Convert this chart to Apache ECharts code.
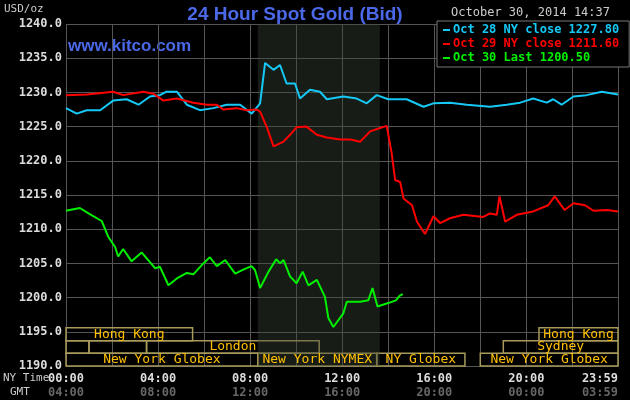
<!DOCTYPE html>
<html>
<head>
<meta charset="utf-8">
<script src="https://cdn.jsdelivr.net/npm/echarts@6/dist/echarts.min.js"></script>
<style>
  html, body { margin: 0; padding: 0; background: #000; }
  #chart { width: 630px; height: 400px; }
</style>
</head>
<body>
<div id="chart"></div>
<script>
// minutes after 00:00 NY time, and spot price
const oct28Min = [0, 28, 54, 89, 123, 158, 189, 219, 245, 262, 289, 315, 349, 384, 419, 454, 484, 506, 519, 541, 558, 575, 597, 610, 636, 662, 680, 723, 758, 784, 810, 840, 888, 932, 958, 1001, 1045, 1105, 1149, 1184, 1218, 1253, 1270, 1292, 1323, 1357, 1397, 1439];
const oct28Val = [1227.7, 1226.9, 1227.4, 1227.4, 1228.8, 1229.0, 1228.2, 1229.4, 1229.6, 1230.1, 1230.1, 1228.2, 1227.4, 1227.7, 1228.2, 1228.2, 1226.9, 1228.4, 1234.3, 1233.3, 1234.0, 1231.3, 1231.3, 1229.1, 1230.4, 1230.1, 1229.0, 1229.4, 1229.1, 1228.4, 1229.6, 1229.0, 1229.0, 1227.9, 1228.4, 1228.5, 1228.2, 1227.9, 1228.2, 1228.5, 1229.1, 1228.5, 1229.0, 1228.2, 1229.4, 1229.6, 1230.1, 1229.7];

const oct29Min = [0, 54, 123, 149, 202, 228, 254, 289, 332, 367, 393, 410, 445, 471, 497, 506, 523, 541, 567, 584, 601, 627, 654, 680, 715, 741, 767, 793, 819, 836, 841, 849, 858, 871, 880, 902, 915, 936, 958, 975, 1001, 1036, 1088, 1105, 1123, 1130, 1145, 1175, 1218, 1257, 1274, 1300, 1323, 1353, 1375, 1410, 1439];
const oct29Val = [1229.6, 1229.7, 1230.1, 1229.6, 1230.1, 1229.8, 1228.8, 1229.1, 1228.5, 1228.2, 1228.2, 1227.5, 1227.7, 1227.4, 1227.5, 1227.2, 1225.0, 1222.1, 1222.8, 1223.8, 1224.9, 1225.0, 1223.8, 1223.4, 1223.1, 1223.1, 1222.8, 1224.3, 1224.8, 1225.1, 1225.2, 1221.1, 1217.2, 1216.9, 1214.5, 1213.5, 1211.1, 1209.3, 1211.9, 1210.9, 1211.6, 1212.1, 1211.8, 1212.3, 1212.1, 1214.8, 1211.1, 1212.1, 1212.6, 1213.5, 1214.8, 1212.8, 1213.8, 1213.5, 1212.7, 1212.8, 1212.6];

const oct30Min = [0, 36, 62, 93, 110, 128, 136, 149, 171, 197, 214, 232, 245, 267, 289, 315, 332, 358, 375, 393, 415, 441, 462, 484, 493, 506, 528, 548, 558, 567, 584, 601, 617, 632, 654, 675, 684, 697, 723, 732, 767, 788, 799, 812, 840, 860, 870, 878];
const oct30Val = [1212.7, 1213.1, 1212.2, 1211.2, 1208.9, 1207.4, 1206.0, 1207.1, 1205.3, 1206.6, 1205.5, 1204.3, 1204.5, 1201.8, 1202.8, 1203.6, 1203.4, 1205.0, 1205.9, 1204.6, 1205.5, 1203.5, 1204.1, 1204.6, 1204.0, 1201.4, 1203.8, 1205.6, 1205.0, 1205.5, 1203.1, 1202.1, 1203.8, 1201.8, 1202.6, 1200.1, 1197.0, 1195.7, 1197.7, 1199.4, 1199.4, 1199.6, 1201.4, 1198.7, 1199.2, 1199.6, 1200.3, 1200.5];

const seriesNames = ['Oct 28 NY close 1227.80', 'Oct 29 NY close 1211.60', 'Oct 30 Last 1200.50'];
const seriesColors = ['#16c8f5', '#ff0000', '#00f000'];

// market sessions: name, start minute, end minute, row (0 top)
const sessionNames = ['Hong Kong', 'Hong Kong', '', '', 'London', 'Sydney', 'New York Globex', 'New York NYMEX', 'NY Globex', 'New York Globex'];
const sessionStart = [0, 1233, 0, 60, 210, 1140, 0, 500, 810, 1080];
const sessionEnd = [330, 1439, 60, 210, 660, 1439, 500, 810, 1040, 1439];
const sessionRow = [0, 0, 1, 1, 1, 1, 2, 2, 2, 2];
const rowTop = [1195.6, 1193.7, 1191.85];
const rowBottom = [1193.7, 1191.85, 1190.0];

const nyTicks = ['00:00', '02:00', '04:00', '06:00', '08:00', '10:00', '12:00', '14:00', '16:00', '18:00', '20:00', '22:00'];
const gmtTicks = ['04:00', '06:00', '08:00', '10:00', '12:00', '14:00', '16:00', '18:00', '20:00', '22:00', '00:00', '02:00'];

const mono = 'DejaVu Sans Mono';

function pairs(xs, ys) {
  return xs.map((x, i) => [x, ys[i]]);
}

const sessionAreas = sessionNames.map((n, i) => [
  { name: n, xAxis: sessionStart[i], yAxis: rowBottom[sessionRow[i]] },
  { xAxis: sessionEnd[i], yAxis: rowTop[sessionRow[i]] }
]);

const chart = echarts.init(document.getElementById('chart'));
chart.setOption({
  backgroundColor: '#000',
  animation: false,
  title: {
    text: '24 Hour Spot Gold (Bid)',
    left: 290, top: 0, textAlign: 'center',
    textStyle: { color: '#4a68e8', fontFamily: 'Liberation Sans', fontSize: 19, fontWeight: 'bold' }
  },
  legend: {
    orient: 'vertical', left: 437, top: 21,
    padding: [3, 10, 3, 6], itemGap: 2,
    backgroundColor: '#000', borderColor: '#777', borderWidth: 1,
    icon: 'rect', itemWidth: 7, itemHeight: 2,
    data: seriesNames.map((n, i) => ({ name: n, textStyle: { color: seriesColors[i] } })),
    textStyle: { fontFamily: mono, fontSize: 12, fontWeight: 'bold', padding: [0, 0, 0, -2] }
  },
  graphic: [
    { type: 'text', left: 4, top: 4, style: { text: 'USD/oz', fill: '#ccc', font: '11px ' + mono } },
    { type: 'text', left: 68, top: 38, style: { text: 'www.kitco.com', fill: '#4a68e8', font: 'bold 17px Liberation Sans' } },
    { type: 'text', right: 20, top: 7, style: { text: 'October 30, 2014 14:37', fill: '#ccc', font: '12px ' + mono } },
    { type: 'text', left: 3, top: 373, style: { text: 'NY Time', fill: '#ccc', font: '11px ' + mono } },
    { type: 'text', left: 10, top: 387, style: { text: 'GMT', fill: '#ccc', font: '11px ' + mono } }
  ],
  grid: { left: 66, right: 12, top: 24, bottom: 34, outerBoundsMode: 'none' },
  xAxis: {
    type: 'value', min: 0, max: 1439, interval: 120,
    axisLine: { show: false }, axisTick: { show: false },
    splitLine: { show: true, lineStyle: { color: '#555', width: 1 } },
    axisLabel: {
      showMaxLabel: true, alignMaxLabel: 'right', margin: 6, lineHeight: 14,
      color: '#ddd', fontFamily: mono, fontSize: 12, fontWeight: 'bold',
      formatter: v => {
        if (v === 1439) return '23:59\n{g|03:59}';
        const i = v / 120;
        if (i % 2) return '';
        return nyTicks[i] + '\n{g|' + gmtTicks[i] + '}';
      },
      rich: { g: { color: '#666', fontFamily: mono, fontSize: 12, fontWeight: 'bold' } }
    }
  },
  yAxis: {
    type: 'value', min: 1190, max: 1240, interval: 5,
    axisLine: { show: false }, axisTick: { show: false },
    splitLine: { show: true, lineStyle: { color: '#555', width: 1 } },
    axisLabel: {
      color: '#ddd', fontFamily: mono, fontSize: 12, fontWeight: 'bold', margin: 4,
      formatter: v => v.toFixed(1)
    }
  },
  series: [
    {
      name: 'sessions', type: 'line', data: [], silent: true,
      markArea: {
        silent: true,
        itemStyle: { color: 'rgba(0,0,0,0)', borderColor: '#a89a5a', borderWidth: 1.5 },
        label: { position: 'inside', color: '#ffc000', fontFamily: mono, fontSize: 13 },
        data: sessionAreas
      }
    },
    {
      name: 'nymex', type: 'line', data: [], silent: true,
      markArea: {
        silent: true,
        itemStyle: { color: 'rgba(60,70,55,0.4)' },
        data: [[{ xAxis: 500, yAxis: 1190 }, { xAxis: 818, yAxis: 1240 }]]
      }
    }
  ].concat([oct28Min, oct29Min, oct30Min].map((xs, i) => ({
    name: seriesNames[i], type: 'line', showSymbol: false,
    data: pairs(xs, [oct28Val, oct29Val, oct30Val][i]),
    lineStyle: { color: seriesColors[i], width: 2 },
    itemStyle: { color: seriesColors[i] }
  })))
});
</script>
</body>
</html>
